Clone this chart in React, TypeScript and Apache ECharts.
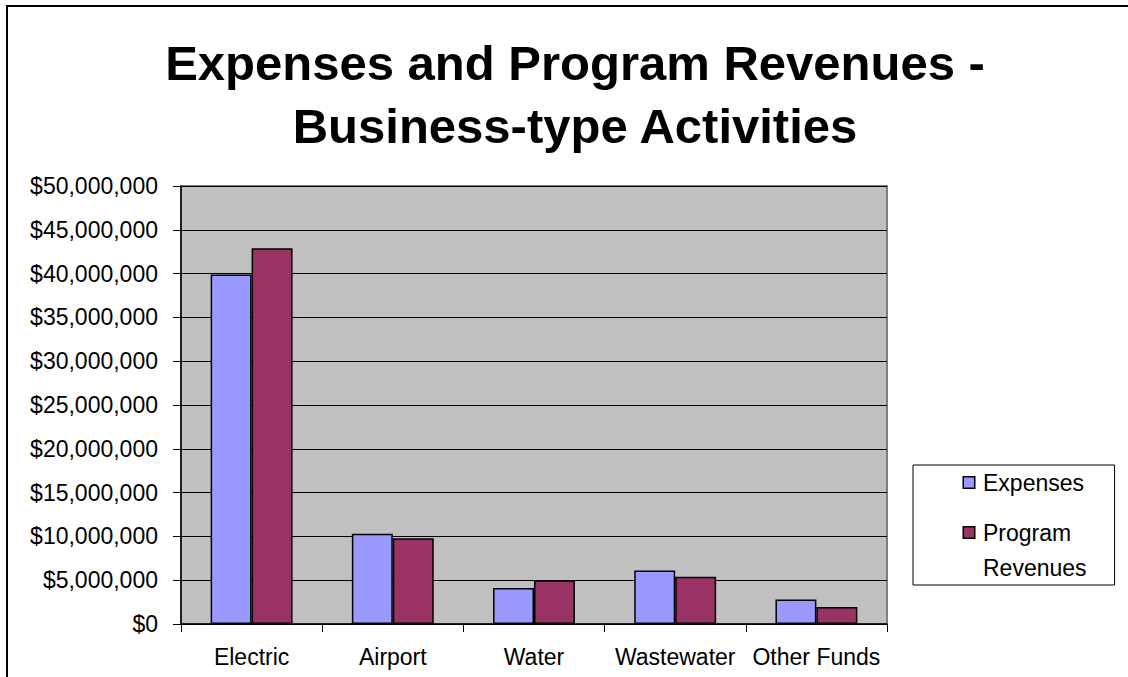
import React, { useEffect, useRef } from "react";
import * as echarts from "echarts";

const categories = ["Electric", "Airport", "Water", "Wastewater", "Other Funds"];
const expenses = [39900000, 10300000, 4100000, 6100000, 2800000];
const programRevenues = [42900000, 9800000, 5000000, 5400000, 1950000];
const titleLines = ["Expenses and Program Revenues -", "Business-type Activities"];

const FONT = "'Liberation Sans', Arial, sans-serif";

export default function App() {
  const ref = useRef<HTMLDivElement>(null);
  useEffect(() => {
    if (!ref.current) return;
    const chart = echarts.init(ref.current, null, { renderer: "svg" });
    chart.setOption({
      animation: false,
      backgroundColor: "#ffffff",
      textStyle: { fontFamily: FONT },
      title: {
        text: titleLines.join("\n"),
        left: 575,
        top: 31,
        textAlign: "center",
        padding: 0,
        textStyle: {
          fontFamily: FONT,
          fontSize: 49,
          fontWeight: "bold",
          color: "#000",
          lineHeight: 63,
        },
      },
      graphic: [
        {
          type: "rect",
          shape: { x: 7, y: 6, width: 1200, height: 800 },
          style: { fill: "none", stroke: "#000", lineWidth: 2 },
          silent: true,
          z: 100,
        },
      ],
      legend: {
        orient: "vertical",
        left: 913,
        top: 465,
        padding: [0, 28, 0, 46],
        itemGap: 15,
        borderColor: "#000",
        borderWidth: 1,
        icon: "none",
        itemWidth: 0,
        itemHeight: 0,
        data: ["Expenses", "Program Revenues"],
        formatter: (name: string) =>
          name === "Expenses"
            ? "{m1|}{g|}{t|Expenses}"
            : "{m2|}{g|}{t|Program}\n{s|}{t|Revenues}",
        textStyle: {
          fontFamily: FONT,
          fontSize: 23,
          lineHeight: 35,
          color: "#000",
          rich: {
            m1: {
              width: 10,
              height: 10,
              lineHeight: 35,
              backgroundColor: "#9999FF",
              borderColor: "#000",
              borderWidth: 1.5,
            },
            m2: {
              width: 10,
              height: 10,
              lineHeight: 35,
              backgroundColor: "#993366",
              borderColor: "#000",
              borderWidth: 1.5,
            },
            g: { width: 9, lineHeight: 35 },
            s: { width: 19, lineHeight: 35 },
            t: { fontFamily: FONT, fontSize: 23, lineHeight: 35, color: "#000" },
          },
        },
      },
      grid: {
        left: 181,
        right: 241,
        top: 186,
        bottom: 53,
        show: true,
        backgroundColor: "#C0C0C0",
        borderColor: "#808080",
        borderWidth: 2,
        containLabel: false,
      },
      xAxis: {
        type: "category",
        data: categories,
        axisLine: { show: true, lineStyle: { color: "#000", width: 1.5 } },
        axisTick: { show: true, length: 8, lineStyle: { color: "#000" } },
        axisLabel: { color: "#000", fontSize: 23, fontFamily: FONT, margin: 21, interval: 0 },
      },
      yAxis: {
        type: "value",
        min: 0,
        max: 50000000,
        interval: 5000000,
        axisLine: { show: true, lineStyle: { color: "#000", width: 1.5 } },
        axisTick: { show: true, length: 8, lineStyle: { color: "#000" } },
        splitLine: { show: true, lineStyle: { color: "#000", width: 1 } },
        axisLabel: {
          color: "#000",
          fontSize: 23,
          fontFamily: FONT,
          margin: 23,
          formatter: (v: number) => "$" + v.toLocaleString("en-US"),
        },
      },
      series: [
        {
          name: "Expenses",
          type: "bar",
          data: expenses,
          barGap: "0%",
          barCategoryGap: "42%",
          itemStyle: { color: "#9999FF", borderColor: "#000", borderWidth: 1.5 },
        },
        {
          name: "Program Revenues",
          type: "bar",
          data: programRevenues,
          barGap: "0%",
          barCategoryGap: "42%",
          itemStyle: { color: "#993366", borderColor: "#000", borderWidth: 1.5 },
        },
      ],
    });
    return () => chart.dispose();
  }, []);
  return (
    <div
      ref={ref}
      style={{ position: "absolute", left: 0, top: 0, width: 1128, height: 677 }}
    />
  );
}
